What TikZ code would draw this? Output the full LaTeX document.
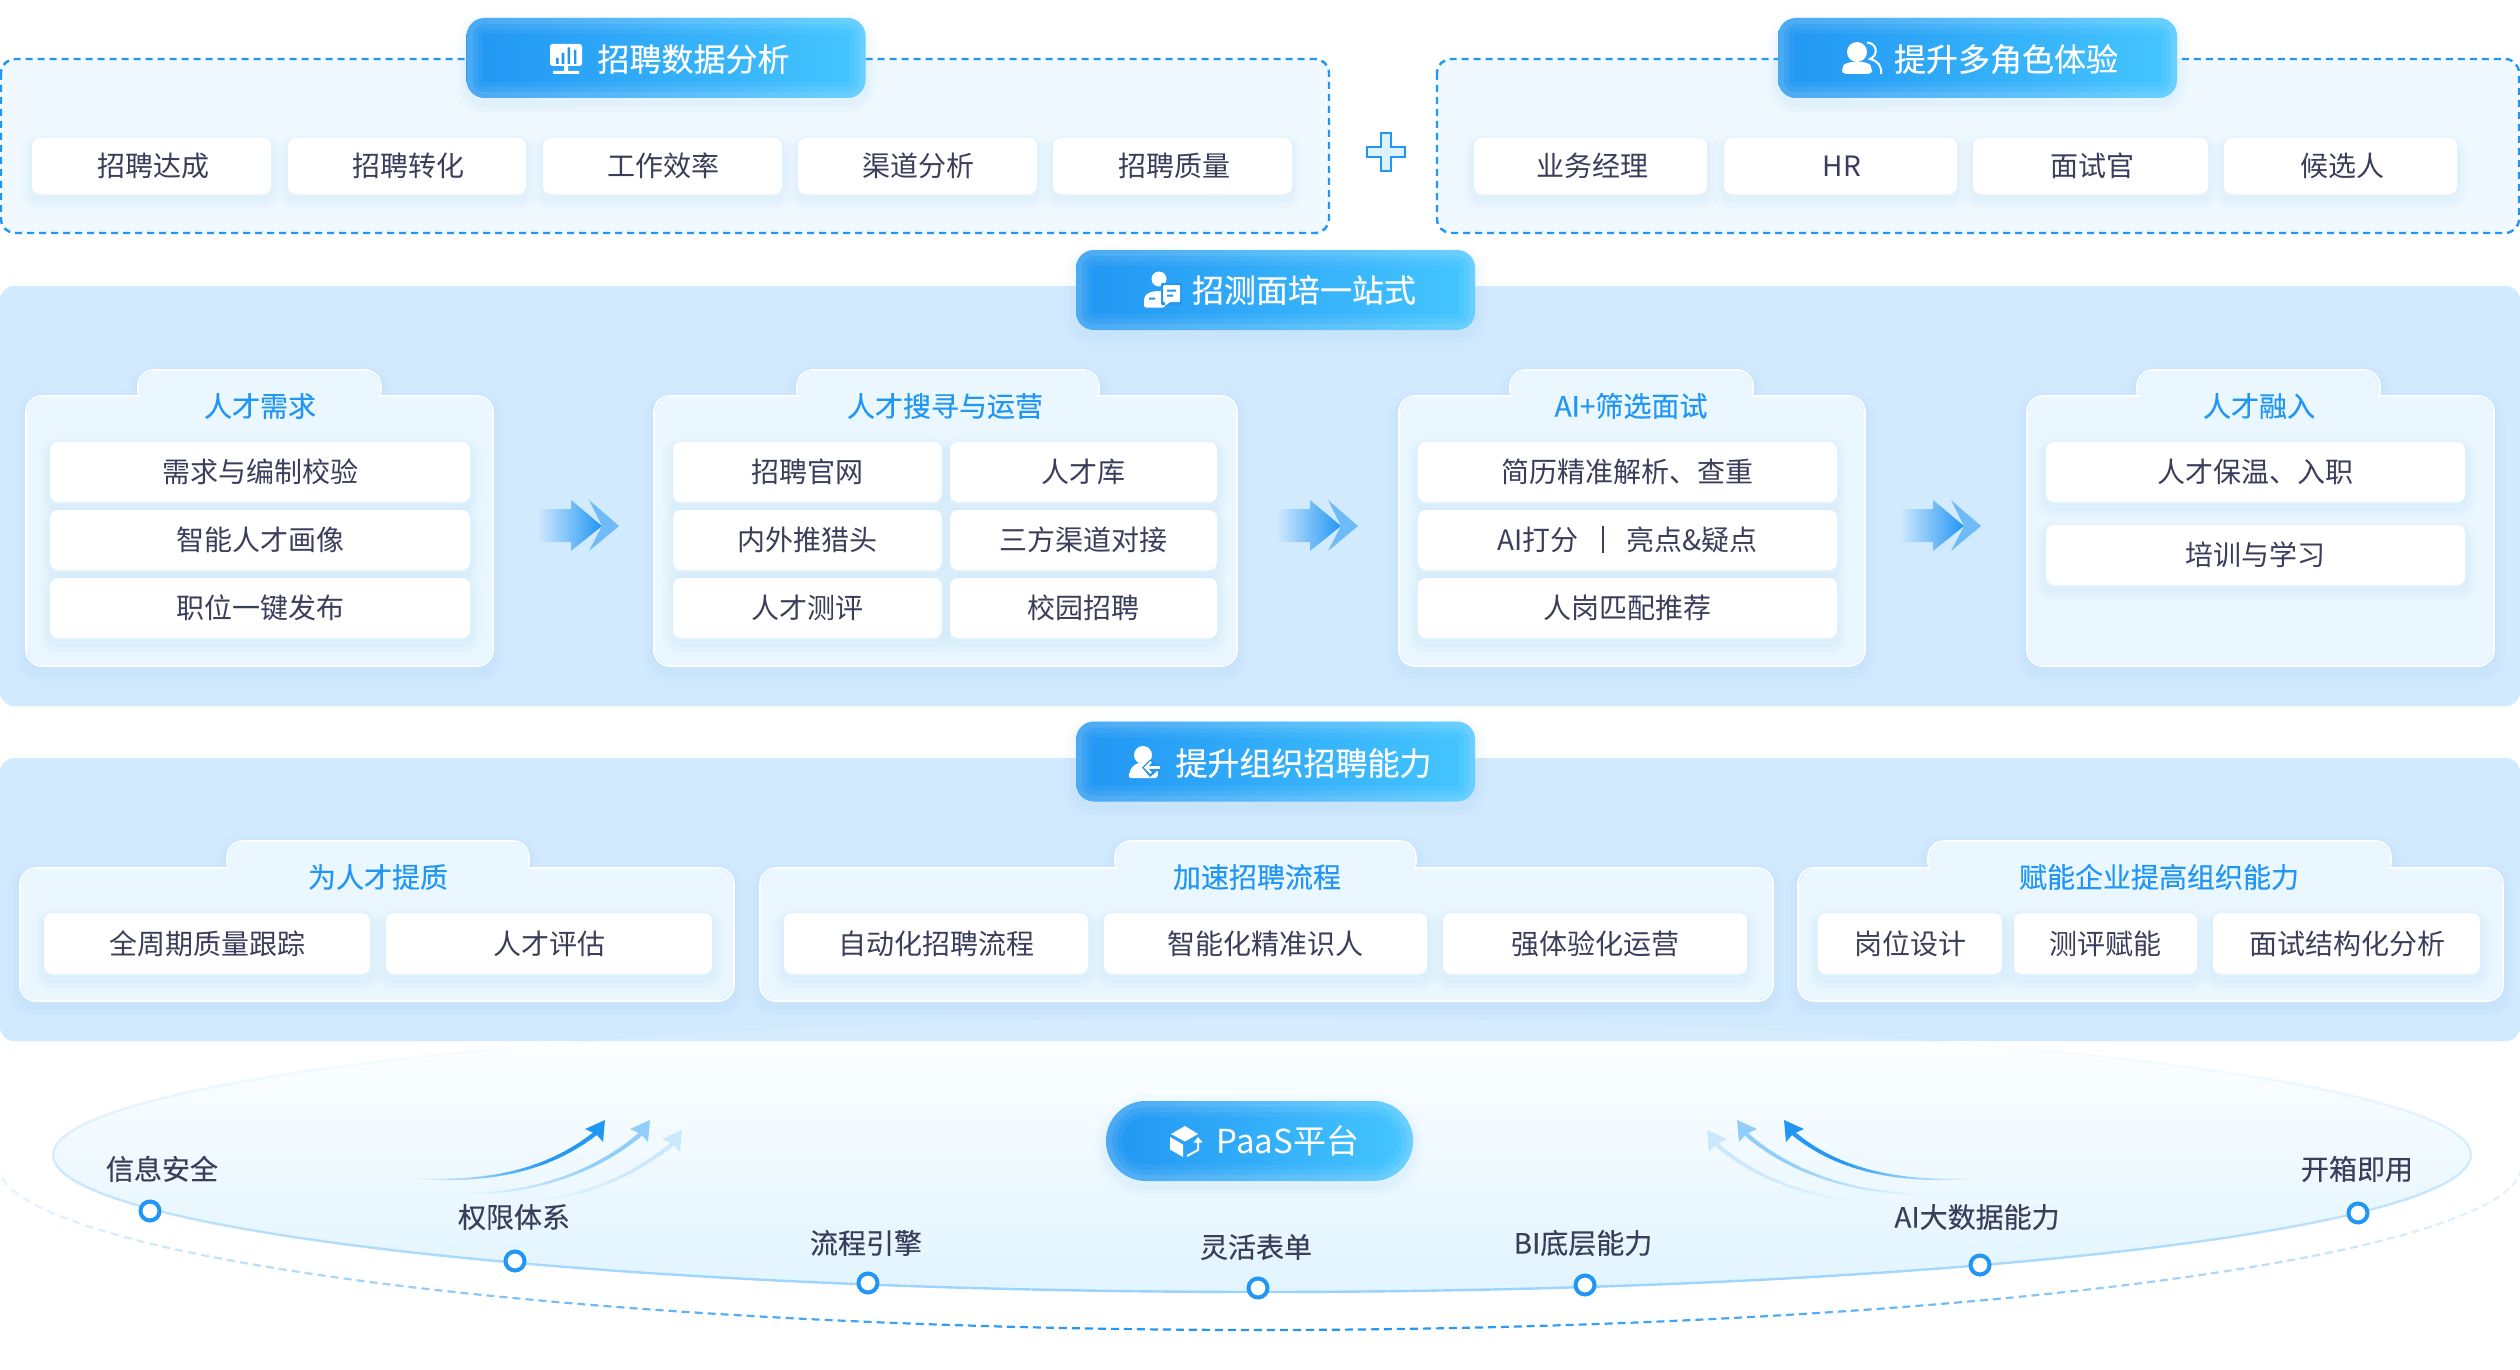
\documentclass[tikz,border=0pt]{standalone}
\usepackage{fontspec}
\setmainfont{Noto Sans CJK SC}
\newfontfamily\medfont[FakeBold=0.25]{Noto Sans CJK SC}
\usetikzlibrary{shapes.geometric}
\definecolor{bluemain}{HTML}{2196F3}
\definecolor{blueright}{HTML}{45C6FF}
\definecolor{panelblue}{HTML}{D2EAFE}
\definecolor{palepanel}{HTML}{F0F9FF}
\definecolor{cardblue}{HTML}{EBF7FF}
\definecolor{inktext}{HTML}{3A3E5A}
\definecolor{shadowblue}{HTML}{7FC0F8}
\definecolor{arrowb}{HTML}{8FCDFB}
\definecolor{arrowc}{HTML}{CBE8FD}
\definecolor{ellstroke}{HTML}{99D3FC}
\definecolor{ellbottom}{HTML}{E1F4FF}
\definecolor{plusfill}{HTML}{DDF1FF}
\tikzset{
  softsh/.style={
    preaction={draw=#1,draw opacity=.03,line width=24pt,transform canvas={yshift=-6pt}},
    preaction={draw=#1,draw opacity=.04,line width=15pt,transform canvas={yshift=-6pt}},
    preaction={draw=#1,draw opacity=.05,line width=7pt,transform canvas={yshift=-5pt}}},
  itembox/.style={softsh=shadowblue,fill=white,rounded corners=8pt,inner sep=0pt,text=inktext,
    font=\fontsize{28}{32}\selectfont,text height=24.6pt,text depth=3.4pt},
  titlebtn/.style={softsh=shadowblue,left color=bluemain,right color=blueright,rounded corners=18pt,
    minimum width=399pt,minimum height=80pt,inner sep=0pt,
    path picture={
      \foreach \lw/\op in {32/.05,22/.07,12/.09}{
        \draw[white,opacity=\op,line width=\lw pt]
          (path picture bounding box.south west) rectangle (path picture bounding box.north east);}}},
  btntext/.style={text=white,inner sep=0pt,font=\medfont\fontsize{32}{36}\selectfont,text height=28.2pt,text depth=3.8pt},
  cardtitle/.style={text=bluemain,inner sep=0pt,font=\medfont\fontsize{28}{32}\selectfont,text height=24.6pt,text depth=3.4pt},
  dotlabel/.style={text=inktext,inner sep=0pt,font=\medfont\fontsize{28}{32}\selectfont,text height=24.6pt,text depth=3.4pt},
  dot/.style={circle,draw=bluemain,fill=white,line width=4pt,minimum size=19pt,inner sep=0pt},
  dashbox/.style={draw=bluemain,fill=palepanel,line width=2.4pt,dash pattern=on 7pt off 5pt,rounded corners=14pt},
  panel/.style={fill=panelblue,rounded corners=14pt},
}
\newcommand\itm[6]{%
  \pgfmathsetmacro\tmpcx{(#2+#4)/2}\pgfmathsetmacro\tmpcy{(#3+#5)/2}%
  \pgfmathsetmacro\tmpw{#4-#2}\pgfmathsetmacro\tmph{#5-#3}%
  \node[itembox,minimum width=\tmpw pt,minimum height=\tmph pt] (#1) at (\tmpcx,\tmpcy) {#6};}
% x1 x2 tabx1 tabx2 ytab ytop ybottom
\newcommand\cardshape[7]{%
  \path[softsh=shadowblue,draw=white,line width=1.6pt]
    [rounded corners=16pt] (#3,#5) rectangle (#4,#6+10) (#1,#6) rectangle (#2,#7);
  \path[fill=cardblue]
    [rounded corners=16pt] (#3+1,#5+1) rectangle (#4-1,#6+10) (#1+1,#6+1) rectangle (#2-1,#7-1);}
\newcommand\chev[1]{%
  \fill[bluemain!62!panelblue,opacity=.9] (#1+50,500) -- (#1+80,526) -- (#1+50,551) -- (#1+63,526) -- cycle;
  \shade[left color=panelblue,right color=bluemain]
    (#1-2,509) -- (#1+32,509) -- (#1+32,500) -- (#1+63,526) -- (#1+32,551) -- (#1+32,542) -- (#1-2,542) -- cycle;}
% p0x p0y p1x p1y p2x p2y p3x p3y colour
\newcommand\fadecurve[9]{%
  \foreach \k in {0,...,39}{%
    \pgfmathsetmacro\ua{\k/40}\pgfmathsetmacro\ub{(\k+1)/40}%
    \pgfmathsetmacro\op{min(1,1.6*\ua)}\pgfmathsetmacro\lw{1.2+3.2*\ua}%
    \draw[#9,opacity=\op,line width=\lw pt]
      ({bz(\ua,#1,#3,#5,#7)},{bz(\ua,#2,#4,#6,#8)}) -- ({bz(\ub,#1,#3,#5,#7)},{bz(\ub,#2,#4,#6,#8)});}}
\begin{document}
\begin{tikzpicture}[x=1pt,y=-1pt,
  declare function={bz(\u,\a,\b,\c,\d)=(1-\u)*(1-\u)*(1-\u)*\a+3*(1-\u)*(1-\u)*\u*\b+3*(1-\u)*\u*\u*\c+\u*\u*\u*\d;}]
\useasboundingbox (0,0) rectangle (2520,1370);
% top panels
\path[dashbox] (1,59) rectangle (1329,233);
\path[dashbox] (1437,59) rectangle (2519,233);
\node[titlebtn] (btnA) at (666,58) {};
\node[btntext] (btnAt) at (693.5,59) {招聘数据分析};
\node[titlebtn] (btnB) at (1977.5,58) {};
\node[btntext] (btnBt) at (2006,59) {提升多角色体验};
\itm{a1}{32}{138}{271}{194}{\hspace{3pt}招聘达成}
\itm{a2}{288}{138}{526}{194}{\hspace{2pt}招聘转化}
\itm{a3}{543}{138}{782}{194}{\hspace{2pt}工作效率}
\itm{a4}{798}{138}{1037}{194}{\hspace{2pt}渠道分析}
\itm{a5}{1053}{138}{1292}{194}{\hspace{3pt}招聘质量}
\itm{b1}{1474}{138}{1707}{194}{\hspace{3pt}业务经理}
\itm{b2}{1724}{138}{1957}{194}{\hspace{3pt}HR}
\itm{b3}{1973}{138}{2208}{194}{\hspace{3pt}面试官}
\itm{b4}{2224}{138}{2457}{194}{\hspace{3pt}候选人}
% plus
\draw[draw=bluemain,fill=plusfill,line width=2.4pt]
  (1381,133) -- (1391,133) -- (1391,147) -- (1405,147) -- (1405,157) -- (1391,157) -- (1391,171)
  -- (1381,171) -- (1381,157) -- (1367,157) -- (1367,147) -- (1381,147) -- cycle;
% icons top
\fill[white,rounded corners=2.5pt] (550,44) rectangle (582,66);
\fill[white] (564,66) rectangle (568,71) (553,71) rectangle (579,74);
\fill[bluemain] (556,58) rectangle (558.5,64) (561.7,53) rectangle (564.3,64) (567.7,47.5) rectangle (570,64) (574,50) rectangle (576.3,64);
\fill[white] (1857,52) circle (10);
\fill[white,rounded corners=4pt] (1842,74) -- (1842,69) .. controls (1844,64) and (1850,62) .. (1857,62) .. controls (1865,62) and (1870,64) .. (1872,69) -- (1872,74) -- cycle;
\draw[white,line width=2pt] (1867,42.5) .. controls (1877,43) and (1879,55) .. (1870,59) .. controls (1878,61) and (1882,66) .. (1881,74);
% middle panel
\path[panel] (0,286) rectangle (2520,706);
\node[titlebtn] (btnC) at (1275.5,290) {};
\node[btntext] (btnCt) at (1304,290) {招测面培一站式};
\fill[white] (1159,279) circle (7.5);
\fill[white,rounded corners=2pt] (1144,307.5) -- (1144,298) .. controls (1147,293) and (1152,291) .. (1160,291) -- (1165,291) -- (1165,307.5) -- cycle;
\fill[bluemain,rounded corners=1pt] (1161,283) rectangle (1182,305);
\fill[white,rounded corners=1pt] (1163,285) -- (1180,285) -- (1180,302) -- (1170,302) -- (1165,306) -- (1165,302) -- (1163,302) -- cycle;
\fill[bluemain] (1167,289.5) rectangle (1176,291.5) (1167,294.5) rectangle (1173,296.5) (1149,297.5) rectangle (1155,299.5);
\cardshape{26}{493}{138}{381}{370}{396}{666}
\node[cardtitle] (t1) at (260,406) {人才需求};
\itm{c1}{50}{442}{470}{502}{需求与编制校验}
\itm{c2}{50}{510}{470}{570}{智能人才画像}
\itm{c3}{50}{578}{470}{638}{职位一键发布}
\cardshape{654}{1237}{797}{1099}{370}{396}{666}
\node[cardtitle] (t2) at (945,406) {人才搜寻与运营};
\itm{d1}{673}{442}{942}{502}{招聘官网}
\itm{d2}{950}{442}{1217}{502}{人才库}
\itm{d3}{673}{510}{942}{570}{内外推猎头}
\itm{d4}{950}{510}{1217}{570}{三方渠道对接}
\itm{d5}{673}{578}{942}{638}{人才测评}
\itm{d6}{950}{578}{1217}{638}{校园招聘}
\cardshape{1399}{1865}{1510}{1753}{370}{396}{666}
\node[cardtitle] (t3) at (1631,406) {AI+筛选面试};
\itm{e1}{1418}{442}{1837}{502}{简历精准解析、查重}
\itm{e2}{1418}{510}{1837}{570}{AI打分\hspace{23pt}\rule[-2.5pt]{2pt}{27pt}\hspace{23pt}亮点\&疑点}
\itm{e3}{1418}{578}{1837}{638}{人岗匹配推荐}
\cardshape{2027}{2494}{2137}{2380}{370}{396}{666}
\node[cardtitle] (t4) at (2259,406) {人才融入};
\itm{f1}{2046}{442}{2465}{502}{人才保温、入职}
\itm{f2}{2046}{525}{2465}{585}{培训与学习}
\chev{539}
\chev{1278}
\chev{1901}
% PaaS ellipse
\shade[top color=white,bottom color=ellbottom] (1262,1155) ellipse [x radius=1209,y radius=137];
\foreach \a in {0,...,359}{%
  \pgfmathsetmacro\xx{(1+sin(\a+.5))/2}\pgfmathsetmacro\op{.01+.99*\xx*(.4+.6*\xx)}%
  \draw[ellstroke,line width=2.4pt,opacity=\op]
    ({1262+1209*cos(\a)},{1155+137*sin(\a)}) -- ({1262+1209*cos(\a+1)},{1155+137*sin(\a+1)});}
% lower panel
\path[panel] (0,758) rectangle (2520,1041);
\begin{scope}
  \clip (1262,1155) ellipse [x radius=1209,y radius=137];
  \fill[white,opacity=.12] (0,1000) rectangle (2520,1041);
\end{scope}
\node[titlebtn] (btnD) at (1275.5,761.5) {};
\node[btntext] (btnDt) at (1303.5,763) {提升组织招聘能力};
\fill[white] (1143,755) circle (9);
\fill[white,rounded corners=3pt] (1128,778) -- (1130,771) .. controls (1133,765) and (1138,763) .. (1143,763) .. controls (1150,763) and (1156,766) .. (1158,772) -- (1158,778) -- cycle;
\draw[bluemain,line width=7pt] (1160,767.5) -- (1146,767.5);
\fill[bluemain] (1142,767.5) -- (1150,759.5) -- (1156,763) -- (1156,772) -- (1150,777) -- cycle;
\draw[white,line width=2.2pt] (1160,767.5) -- (1146,767.5);
\draw[white,line width=2.2pt] (1151,762) -- (1145.5,767.5) -- (1151,773);
\cardshape{20}{734}{227}{529}{841}{868}{1001}
\node[cardtitle] (t5) at (378,877) {为人才提质};
\itm{g1}{44}{913}{370}{974}{全周期质量跟踪}
\itm{g2}{386}{913}{712}{974}{人才评估}
\cardshape{760}{1773}{1115}{1416}{841}{868}{1001}
\node[cardtitle] (t6) at (1257,877) {加速招聘流程};
\itm{h1}{784}{913}{1088}{974}{自动化招聘流程}
\itm{h2}{1104}{913}{1427}{974}{智能化精准识人}
\itm{h3}{1443}{913}{1747}{974}{强体验化运营}
\cardshape{1798}{2503}{1928}{2391}{841}{868}{1001}
\node[cardtitle] (t7) at (2159,877) {赋能企业提高组织能力};
\itm{i1}{1818}{913}{2002}{974}{岗位设计}
\itm{i2}{2014}{913}{2197}{974}{测评赋能}
\itm{i3}{2213}{913}{2480}{974}{\hspace{2pt}面试结构化分析}
% PaaS button
\node[titlebtn,minimum width=307pt,rounded corners=40pt] (btnE) at (1259.5,1141) {};
\node[btntext,font=\fontsize{33}{36}\selectfont] (btnEt) at (1288,1141) {PaaS平台};
\fill[white] (1185,1126) -- (1198,1134) -- (1185,1141.5) -- (1171,1134) -- cycle;
\fill[white] (1170,1137) -- (1183,1144.5) -- (1183,1157) -- (1170,1149.5) -- cycle;
\draw[white,line width=2pt] (1187,1156) -- (1198,1150) -- (1198,1141);
\fill[white] (1198,1137) -- (1202.5,1142.5) -- (1193.5,1142.5) -- cycle;
% dashed outer ellipse
\def\dT{180}
\loop\ifdim\dT pt>0pt
  \pgfmathsetmacro\spd{veclen(1262*sin(\dT),165*cos(\dT))}%
  \pgfmathsetmacro\dB{\dT-8/\spd*57.3}%
  \pgfmathsetmacro\dC{\dB-5/\spd*57.3}%
  \pgfmathsetmacro\ss{abs(sin(\dT))}%
  \pgfmathsetmacro\op{.12+.88*\ss*\ss*\ss}%
  \draw[bluemain,line width=2.2pt,opacity=\op]
    ({1260+1262*cos(\dT)},{1165+165*sin(\dT)}) -- ({1260+1262*cos(\dB)},{1165+165*sin(\dB)});
  \let\dT\dC
\repeat
% curved arrows, left
\fadecurve{408}{1178}{500}{1185}{555}{1165}{596}{1133}{bluemain}
\fill[bluemain] (605,1120) -- (585,1129) -- (596,1134) -- (603,1142) -- cycle;
\fadecurve{456}{1194}{545}{1195}{605}{1165}{642}{1133}{arrowb}
\fill[arrowb] (650,1120) -- (630,1129) -- (641,1134) -- (648,1142) -- cycle;
\fadecurve{510}{1203}{590}{1200}{640}{1170}{674}{1143}{arrowc}
\fill[arrowc] (682,1130) -- (662,1139) -- (673,1144) -- (680,1152) -- cycle;
% curved arrows, right
\fadecurve{1978}{1178}{1889}{1185}{1831}{1165}{1793}{1133}{bluemain}
\fill[bluemain] (1784,1120) -- (1804,1129) -- (1793,1134) -- (1786,1142) -- cycle;
\fadecurve{1929}{1194}{1843}{1195}{1780}{1165}{1745}{1133}{arrowb}
\fill[arrowb] (1737,1120) -- (1757,1129) -- (1746,1134) -- (1739,1142) -- cycle;
\fadecurve{1884}{1203}{1798}{1200}{1745}{1170}{1715}{1143}{arrowc}
\fill[arrowc] (1707,1130) -- (1727,1139) -- (1716,1144) -- (1709,1152) -- cycle;
% dots and labels
\node[dot] (p1) at (150,1211) {};
\node[dotlabel] (l1) at (162,1169) {信息安全};
\node[dot] (p2) at (515,1261) {};
\node[dotlabel] (l2) at (514,1217) {权限体系};
\node[dot] (p3) at (868,1283) {};
\node[dotlabel] (l3) at (866,1243) {流程引擎};
\node[dot] (p4) at (1258,1288) {};
\node[dotlabel] (l4) at (1256,1247) {灵活表单};
\node[dot] (p5) at (1585,1285) {};
\node[dotlabel] (l5) at (1583,1243) {BI底层能力};
\node[dot] (p6) at (1980,1265) {};
\node[dotlabel] (l6) at (1977,1217) {AI大数据能力};
\node[dot] (p7) at (2358,1213) {};
\node[dotlabel] (l7) at (2357,1169) {开箱即用};
\end{tikzpicture}
\end{document}
